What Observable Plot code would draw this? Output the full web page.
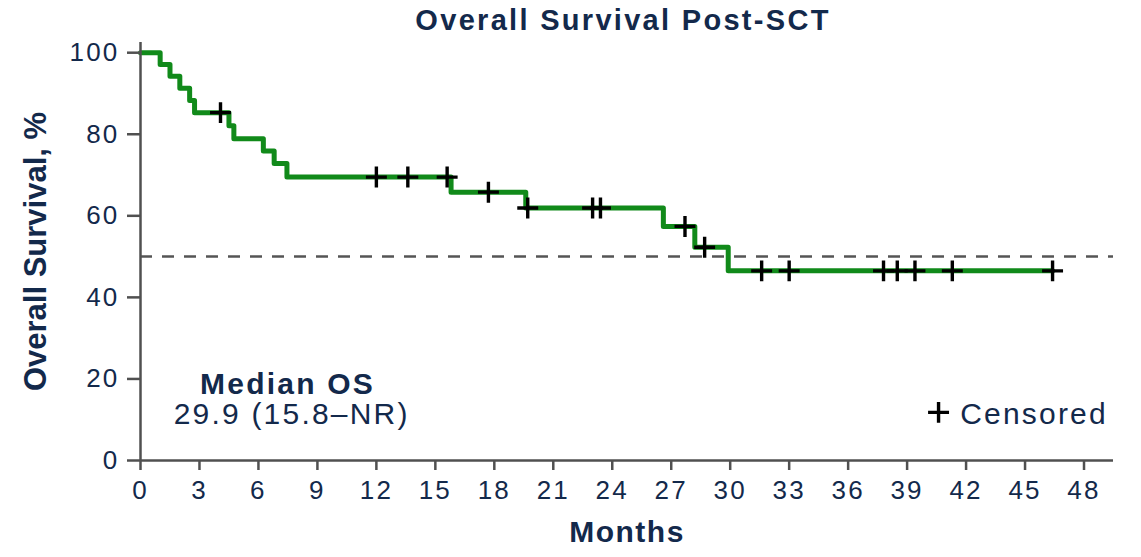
<!DOCTYPE html>
<html>
<head>
<meta charset="utf-8">
<script src="https://cdn.jsdelivr.net/npm/d3@7"></script>
<script src="https://cdn.jsdelivr.net/npm/@observablehq/plot@0.6"></script>
<style>
  body { margin: 0; background: #fff; }
  #title { position: relative; width: 1141px; height: 40px; font: bold 29px "Liberation Sans", Arial, sans-serif; color: #13294b; }
  #title span { position: absolute; left: 623px; top: 20px; transform: translate(-50%, -50%); white-space: nowrap; letter-spacing: 2.3px; }
  #chart svg { display: block; }
</style>
</head>
<body>
<div id="title"><span>Overall Survival Post-SCT</span></div>
<div id="chart"></div>
<script>
// Kaplan–Meier steps (months, overall survival %)
const stepMonths   = [0, 1.0, 1.5, 2.0, 2.5, 2.75, 4.5, 4.75, 6.25, 6.8, 7.45, 15.8, 19.6, 26.6, 28.2, 29.9, 46.4];
const stepSurvival = [100, 97.1, 94.2, 91.3, 88.3, 85.3, 82.1, 78.9, 75.9, 72.8, 69.5, 65.8, 61.9, 57.4, 52.3, 46.5, 46.5];

// Censored patients
const censorMonths   = [4.07, 12.0, 13.6, 15.6, 17.7, 19.7, 23.0, 23.4, 27.7, 28.7, 31.6, 33.0, 37.8, 38.5, 39.4, 41.3, 46.4];
const censorSurvival = [85.3, 69.5, 69.5, 69.5, 65.8, 61.9, 61.9, 61.9, 57.4, 52.3, 46.5, 46.5, 46.5, 46.5, 46.5, 46.5, 46.5];

// Axis ticks
const xTicks = [0, 3, 6, 9, 12, 15, 18, 21, 24, 27, 30, 33, 36, 39, 42, 45, 48];
const yTicks = [0, 20, 40, 60, 80, 100];
const medianLine = [50];

// Texts
const xLabel = "Months";
const yLabel = "Overall Survival, %";
const medianTitle = "Median OS";
const medianValue = "29.9 (15.8–NR)";
const legendLabel = "Censored";

const curve = stepMonths.map((m, i) => ({month: m, surv: stepSurvival[i]}));
const censored = censorMonths.map((m, i) => ({month: m, surv: censorSurvival[i]}));

const navy = "#13294b";
const axisGray = "#505050";
const font = "'Liberation Sans', Arial, sans-serif";

const plot = Plot.plot({
  width: 1141,
  height: 517,
  marginLeft: 140,
  marginRight: 28,
  marginTop: 2,
  marginBottom: 97,
  x: {domain: [0, 49.5]},
  y: {domain: [0, 102.5]},
  style: {fontFamily: font, color: navy, background: "white", overflow: "visible"},
  marks: [
    Plot.ruleY(medianLine, {stroke: "#555", strokeWidth: 2.5, strokeDasharray: "12,10"}),
    Plot.line(curve, {x: "month", y: "surv", curve: "step-after", stroke: "#118a1a", strokeWidth: 5}),
    Plot.dot(censored, {x: "month", y: "surv", symbol: "plus", r: 6.8, stroke: "#000", strokeWidth: 3.4}),
    Plot.ruleX([0], {stroke: axisGray, strokeWidth: 2.5}),
    Plot.ruleY([0], {stroke: axisGray, strokeWidth: 2.5}),
    Plot.axisX({ticks: xTicks, tickSize: 10, tickPadding: 10, fontSize: 26, label: null, stroke: axisGray, fill: navy, strokeWidth: 2.5, tickFormat: d => String(d)}),
    Plot.axisY({ticks: yTicks, tickSize: 13, tickPadding: 8, fontSize: 26, label: null, stroke: axisGray, fill: navy, strokeWidth: 2.5, tickFormat: d => String(d)}),
    Plot.text([yLabel], {frameAnchor: "left", textAnchor: "middle", dx: -104, rotate: -90, fontSize: 31, fontWeight: "bold", fill: navy}),
    Plot.text([xLabel], {frameAnchor: "bottom", dy: 81, fontSize: 30, fontWeight: "bold", fill: navy}),
    Plot.text([medianTitle], {x: () => 7.48, y: () => 18.6, fontSize: 30, fontWeight: "bold", fill: navy}),
    Plot.text([medianValue], {x: () => 7.69, y: () => 11.3, fontSize: 30, fill: navy}),
    Plot.dot([legendLabel], {x: () => 40.6, y: () => 11.8, symbol: "plus", r: 6.8, stroke: "#000", strokeWidth: 3.4}),
    Plot.text([legendLabel], {x: () => 41.7, y: () => 11.3, textAnchor: "start", fontSize: 30, fill: navy})
  ]
});

// Slight horizontal widening of horizontal texts to match reference lettering
d3.select(plot).selectAll("text").each(function() {
  const t = this.textContent;
  if (t === yLabel) return;
  d3.select(this).style("letter-spacing", t === xLabel ? "1.5px" : "2.2px");
});

document.getElementById("chart").appendChild(plot);
</script>
</body>
</html>
